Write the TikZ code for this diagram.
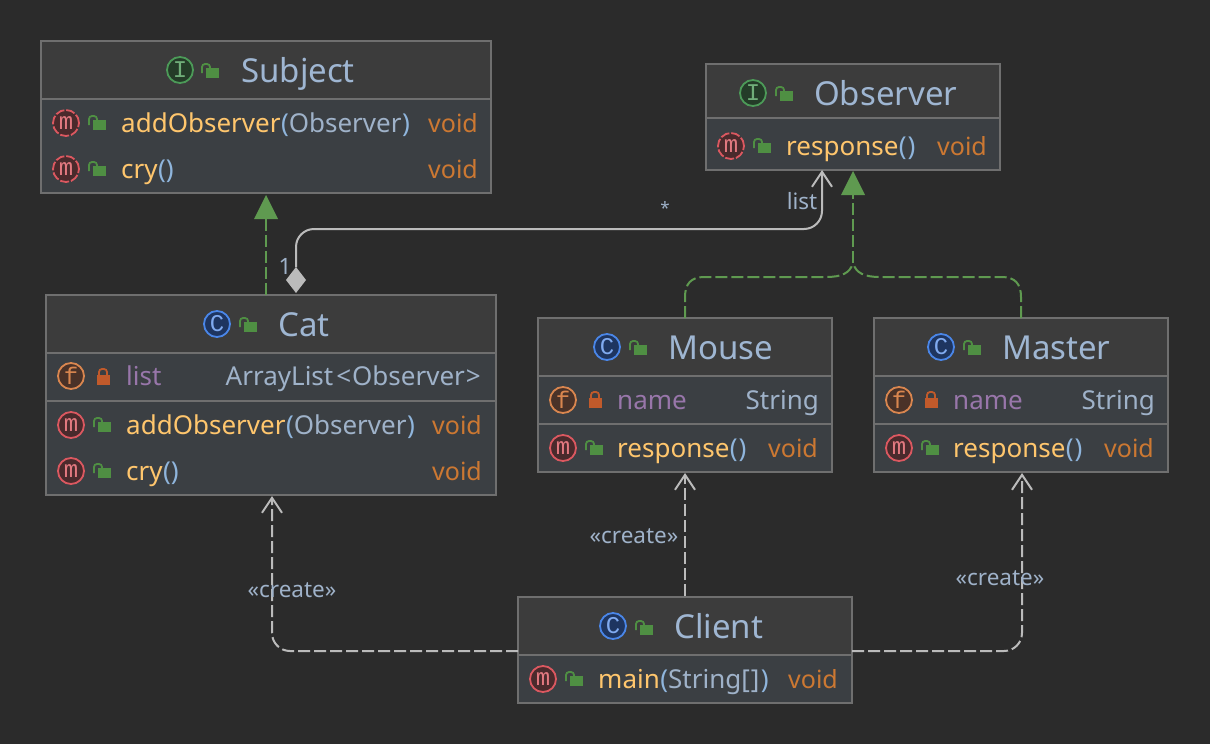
\documentclass[tikz,border=0pt]{standalone}
\usepackage{fontspec}
\setmainfont{Noto Sans}
\newfontfamily\iconfont{Liberation Mono}
\usetikzlibrary{arrows.meta}

\definecolor{canvas}{HTML}{2B2B2B}
\definecolor{headfill}{HTML}{3C3C3C}
\definecolor{bodyfill}{HTML}{3B3F43}
\definecolor{frameline}{HTML}{6F6F6F}
\definecolor{titlecol}{HTML}{9FB6D2}
\definecolor{paramcol}{HTML}{9FB2C9}
\definecolor{parencol}{HTML}{8FB5DC}
\definecolor{methodcol}{HTML}{FFC66D}
\definecolor{voidcol}{HTML}{CC7832}
\definecolor{fieldcol}{HTML}{9876AA}
\definecolor{realcol}{HTML}{5F9A50}
\definecolor{linkcol}{HTML}{BBBBBB}
\definecolor{lockgreen}{HTML}{4F8F43}
\definecolor{lockred}{HTML}{C15A2B}
\definecolor{ringred}{HTML}{DB5860}
\definecolor{fillred}{HTML}{4A2A2C}
\definecolor{ringgreen}{HTML}{4C9A58}
\definecolor{fillgreen}{HTML}{243C28}
\definecolor{ringblue}{HTML}{4A86E8}
\definecolor{fillblue}{HTML}{1E3560}
\definecolor{ringorange}{HTML}{D9864F}
\definecolor{fillorange}{HTML}{4A3228}

\newcommand{\parenpart}[1]{\textcolor{parencol}{\bfseries\kern0.5pt #1}}
\newcommand{\typepart}[1]{\textcolor{paramcol}{#1}}

\tikzset{
  x=1pt,y=-1pt,
  headbox/.style={draw=frameline,fill=headfill,line width=1.6pt,inner sep=0pt},
  bodybox/.style={draw=frameline,fill=bodyfill,line width=1.6pt,inner sep=0pt},
  titletext/.style={anchor=base west,inner sep=0pt,text=titlecol,font=\fontsize{33}{33}\selectfont},
  methodtext/.style={anchor=base west,inner sep=0pt,text=methodcol,font=\fontsize{26}{26}\selectfont},
  fieldtext/.style={anchor=base west,inner sep=0pt,text=fieldcol,font=\fontsize{26}{26}\selectfont},
  typetext/.style={anchor=base east,inner sep=0pt,text=paramcol,font=\fontsize{26}{26}\selectfont},
  voidtext/.style={anchor=base west,inner sep=0pt,text=voidcol,font=\fontsize{25}{25}\selectfont},
  linklabel/.style={inner sep=0pt,text=paramcol,font=\fontsize{22.5}{22.5}\selectfont},
  kindicon/.style={circle,line width=1.8pt,minimum size=26pt,inner sep=0pt,font=\iconfont\fontsize{24}{24}\selectfont},
  methodicon/.style={kindicon,draw=ringred,fill=fillred,text=ringred!80!white},
  abstracticon/.style={methodicon,dash pattern=on 9pt off 2pt},
  classicon/.style={kindicon,draw=ringblue,fill=fillblue,text=ringblue!70!white},
  faceicon/.style={kindicon,draw=ringgreen,fill=fillgreen,text=ringgreen!80!white},
  fieldicon/.style={kindicon,draw=ringorange,fill=fillorange,text=ringorange},
  realizes/.style={draw=realcol,line width=2pt,dash pattern=on 12pt off 4pt},
  creates/.style={draw=linkcol,line width=2pt,dash pattern=on 12pt off 4pt,-{Straight Barb[length=15pt,width=20pt]}},
  openlock/.pic={
    \fill[lockgreen] (-4,-3) rectangle (9,7);
    \draw[lockgreen,line width=1.8pt,rounded corners=3pt] (-8,2) -- (-8,-7) -- (0,-7) -- (0,-2);
  },
  shutlock/.pic={
    \fill[lockred] (-6.5,-2) rectangle (6.5,8);
    \draw[lockred,line width=1.8pt,rounded corners=3pt] (-4,-2) -- (-4,-8) -- (4,-8) -- (4,-2);
  }
}

\begin{document}
\begin{tikzpicture}

  \fill[canvas] (0,0) rectangle (1210,744);

  % compartments
  \node[headbox,minimum width=450pt,minimum height=58pt] (SubjectHead) at (266,70) {};
  \node[bodybox,minimum width=450pt,minimum height=94pt] (Subject) at (266,146) {};
  \node[headbox,minimum width=294pt,minimum height=54pt] (ObserverHead) at (853,91) {};
  \node[bodybox,minimum width=294pt,minimum height=52pt] (Observer) at (853,144) {};
  \node[headbox,minimum width=450pt,minimum height=58pt] (CatHead) at (271,324) {};
  \node[bodybox,minimum width=450pt,minimum height=48pt] (CatFields) at (271,377) {};
  \node[bodybox,minimum width=450pt,minimum height=94pt] (CatMethods) at (271,448) {};
  \node[headbox,minimum width=294pt,minimum height=58pt] (MouseHead) at (685,347) {};
  \node[bodybox,minimum width=294pt,minimum height=48pt] (MouseFields) at (685,400) {};
  \node[bodybox,minimum width=294pt,minimum height=48pt] (MouseMethods) at (685,448) {};
  \node[headbox,minimum width=294pt,minimum height=58pt] (MasterHead) at (1021,347) {};
  \node[bodybox,minimum width=294pt,minimum height=48pt] (MasterFields) at (1021,400) {};
  \node[bodybox,minimum width=294pt,minimum height=48pt] (MasterMethods) at (1021,448) {};
  \node[headbox,minimum width=334pt,minimum height=58pt] (ClientHead) at (685,626) {};
  \node[bodybox,minimum width=334pt,minimum height=48pt] (Client) at (685,679) {};

  % titles
  \node[titletext] (subjecttitle) at (241,82) {Subject};
  \node[titletext] (observertitle) at (814,105) {Observer};
  \node[titletext] (cattitle) at (278,336) {Cat};
  \node[titletext] (mousetitle) at (668,359) {Mouse};
  \node[titletext] (mastertitle) at (1002,359) {Master};
  \node[titletext] (clienttitle) at (674,638) {Client};

  % kind icons
  \node[faceicon] (subjectkind) at (180,70) {I};
  \node[faceicon] (observerkind) at (753,93) {I};
  \node[classicon] (catkind) at (217,324) {C};
  \node[classicon] (mousekind) at (607,347) {C};
  \node[classicon] (masterkind) at (941,347) {C};
  \node[classicon] (clientkind) at (613,626) {C};
  \node[abstracticon] (addicon) at (66,123) {m};
  \node[abstracticon] (cryicon) at (66,169) {m};
  \node[abstracticon] (responseicon) at (731,146) {m};
  \node[fieldicon] (listicon) at (71,376) {f};
  \node[methodicon] (catadd) at (71,425) {m};
  \node[methodicon] (catcry) at (71,471) {m};
  \node[fieldicon] (mousefield) at (563,400) {f};
  \node[methodicon] (mouseresp) at (563,448) {m};
  \node[fieldicon] (masterfield) at (899,400) {f};
  \node[methodicon] (masterresp) at (899,448) {m};
  \node[methodicon] (clientmain) at (543,679) {m};

  % visibility locks
  \foreach \lx/\ly in {210/71,784/94,248/325,638/348,972/348,644/628,97/123,97/169,762/146,102/425,102/471,594/448,930/448,574/679}
    \pic at (\lx,\ly) {openlock};
  \foreach \lx/\ly in {103/377,595/400,931/400}
    \pic at (\lx,\ly) {shutlock};

  % members
  \node[methodtext] (addtext) at (121,132) {addObserver\parenpart{(}\typepart{Observer}\parenpart{)}};
  \node[voidtext] (addvoid) at (428,132) {void};
  \node[methodtext] (crytext) at (121,178) {cry\parenpart{()}};
  \node[voidtext] (cryvoid) at (428,178) {void};
  \node[methodtext] (resptext) at (786,155) {response\parenpart{(\kern1pt)}};
  \node[voidtext] (respvoid) at (937,155) {void};
  \node[fieldtext] (listtext) at (126,385) {list};
  \node[typetext] (listtype) at (481,385) {ArrayList\kern3pt<\kern1pt Observer\kern1pt>};
  \node[methodtext] (cataddtext) at (126,434) {addObserver\parenpart{(}\typepart{Observer}\parenpart{)}};
  \node[voidtext] (cataddvoid) at (432,434) {void};
  \node[methodtext] (catcrytext) at (126,480) {cry\parenpart{()}};
  \node[voidtext] (catcryvoid) at (432,480) {void};
  \node[fieldtext] (mousename) at (617,409) {name};
  \node[typetext] (mousetype) at (819,409) {String};
  \node[methodtext] (mouseresptext) at (617,457) {response\parenpart{(\kern1pt)}};
  \node[voidtext] (mouserespvoid) at (768,457) {void};
  \node[fieldtext] (mastername) at (953,409) {name};
  \node[typetext] (mastertype) at (1155,409) {String};
  \node[methodtext] (masterresptext) at (953,457) {response\parenpart{(\kern1pt)}};
  \node[voidtext] (masterrespvoid) at (1104,457) {void};
  \node[methodtext] (mainname) at (598,688) {main\parenpart{(}\typepart{String[\kern1pt]}\parenpart{\kern1pt)}};
  \node[voidtext] (mainvoid) at (788,688) {void};

  % anchors of the connectors
  \coordinate (catreal) at (266,295);
  \coordinate (catlink) at (296,267);
  \coordinate (obslink) at (822,170);
  \coordinate (obsreal) at (853,171);
  \coordinate (fork) at (853,263);
  \coordinate (mousereal) at (685,318);
  \coordinate (masterreal) at (1021,318);
  \coordinate (catback) at (272,496);
  \coordinate (mouseback) at (685,473);
  \coordinate (masterback) at (1022,473);
  \coordinate (clientleft) at (518,651);
  \coordinate (clientright) at (852,651);

  % realizations
  \draw[realizes] (catreal) -- (266,215);
  \fill[realcol] (266,195) -- (278,219) -- (254,219) -- cycle;
  \draw[realizes] (fork) -- (853,191);
  \fill[realcol] (853,171) -- (865,195) -- (841,195) -- cycle;
  \draw[realizes] (mousereal) -- (685,297) .. controls (685,284) and (691,277) .. (704,277) -- (826,277) .. controls (842,277) and (850,273) .. (fork);
  \draw[realizes] (masterreal) -- (1021,297) .. controls (1021,284) and (1015,277) .. (1002,277) -- (880,277) .. controls (864,277) and (856,273) .. (fork);

  % association
  \draw[draw=linkcol,line width=2pt,rounded corners=18pt,-{Straight Barb[length=15pt,width=20pt]}] (catlink) -- (296,229) -- (822,229) -- (obslink);
  \fill[linkcol] (296,267) -- (306,280) -- (296,293) -- (286,280) -- cycle;

  % creations
  \draw[creates] (ClientHead.north -| mouseback) -- (mouseback);
  \draw[creates,rounded corners=18pt] (clientleft) -- (272,651) -- (catback);
  \draw[creates,rounded corners=18pt] (clientright) -- (1022,651) -- (masterback);

  % connector labels
  \node[linklabel,font=\fontsize{17}{17}\selectfont] (starlabel) at (665,208) {*};
  \node[linklabel] (listlabel) at (802,201) {list};
  \node[linklabel] (onelabel) at (285,266) {1};
  \node[linklabel] (catcreate) at (292,590) {«create»};
  \node[linklabel] (mousecreate) at (634,536) {«create»};
  \node[linklabel] (mastercreate) at (1000,578) {«create»};

\end{tikzpicture}
\end{document}
